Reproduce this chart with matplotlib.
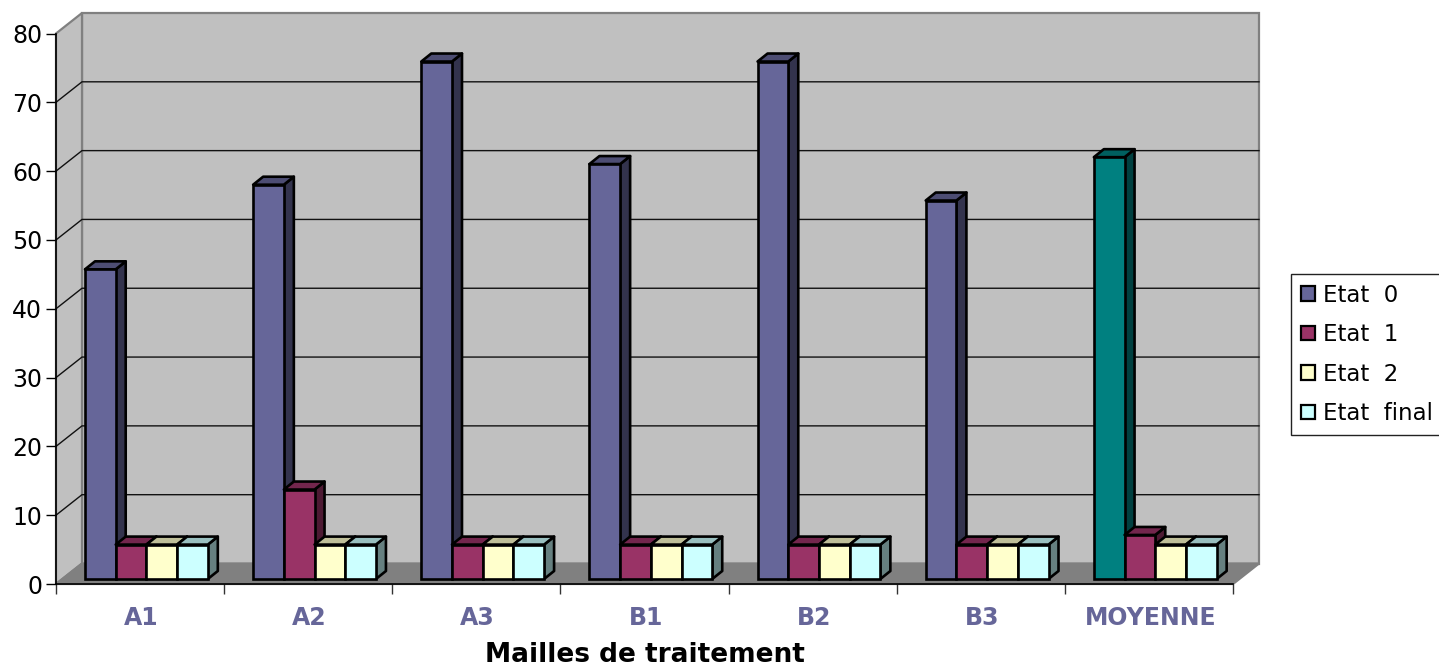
import matplotlib
matplotlib.use("Agg")
import matplotlib.pyplot as plt
from matplotlib.patches import Patch, Polygon

mailles = ["A1", "A2", "A3", "B1", "B2", "B3", "MOYENNE"]
etat0 = [45, 57.3, 75.2, 60.3, 75.2, 55, 61.3]
etat1 = [5, 13, 5, 5, 5, 5, 6.4]
etat2 = [5, 5, 5, 5, 5, 5, 5]
etat_final = [5, 5, 5, 5, 5, 5, 5]
noms = ["Etat  0", "Etat  1", "Etat  2", "Etat  final"]
yticks = [0, 10, 20, 30, 40, 50, 60, 70, 80]

# face, top, side
couleurs = [("#666699", "#4d4d73", "#33334d"),
            ("#993366", "#73264d", "#4d1a33"),
            ("#ffffcc", "#bfbf99", "#808066"),
            ("#ccffff", "#99bfbf", "#668080")]
couleurs_moyenne = ("#008080", "#006060", "#004040")

W, H = 1439, 669
x0, x1, y0, y80 = 56, 1233, 584, 33.5
px_x = 7 / (x1 - x0)
px_y = 80 / (y0 - y80)

# fake 3d offsets
mur_dx, mur_dy = 26 * px_x, 20.5 * px_y
bar_dx, bar_dy = 10 * px_x, 8 * px_y
base = 5 * px_y
marge = 29 * px_x
largeur = 30.7 * px_x
lw = 1.9

fig = plt.figure(figsize=(W / 100, H / 100), dpi=100)
ax = fig.add_axes([x0 / W, (H - y0) / H, (x1 - x0) / W, (y0 - y80) / H])
ax.set_xlim(0, 7)
ax.set_ylim(0, 80)
ax.patch.set_visible(False)
for s in ax.spines.values():
    s.set_visible(False)

# walls and floor
mur_fond = [(mur_dx, mur_dy), (7 + mur_dx, mur_dy), (7 + mur_dx, 80 + mur_dy), (mur_dx, 80 + mur_dy)]
mur_gauche = [(0, 0), (mur_dx, mur_dy), (mur_dx, 80 + mur_dy), (0, 80)]
sol = [(0, 0), (7, 0), (7 + mur_dx, mur_dy), (mur_dx, mur_dy)]
for pts, c in [(mur_fond, "#c0c0c0"), (mur_gauche, "#c0c0c0"), (sol, "#808080")]:
    ax.add_patch(Polygon(pts, closed=True, facecolor=c, edgecolor="#808080", lw=1.6, clip_on=False, zorder=1))

for v in yticks[1:-1]:
    ax.plot([0, mur_dx, 7 + mur_dx], [v, v + mur_dy, v + mur_dy], color="#111111", lw=1, clip_on=False, zorder=2)
ax.plot([0, 0], [0, 80], color="black", lw=1.2, clip_on=False, zorder=3)
ax.plot([0, 7], [0, 0], color="black", lw=1.2, clip_on=False, zorder=3)

# bars
series = [etat0, etat1, etat2, etat_final]
z = 10
for i in range(len(mailles)):
    for j, vals in enumerate(series):
        v = vals[i]
        g = i + marge + j * largeur
        d = g + largeur
        h = v + base
        c = couleurs[j]
        if j == 0 and mailles[i] == "MOYENNE":
            c = couleurs_moyenne
        ax.add_patch(Polygon([(d, base), (d + bar_dx, base + bar_dy), (d + bar_dx, h + bar_dy), (d, h)],
                             closed=True, facecolor=c[2], edgecolor="black", lw=lw, zorder=z, joinstyle="round"))
        ax.add_patch(Polygon([(g, h), (d, h), (d + bar_dx, h + bar_dy), (g + bar_dx, h + bar_dy)],
                             closed=True, facecolor=c[1], edgecolor="black", lw=lw, zorder=z + 1, joinstyle="round"))
        ax.bar(g, v, largeur, bottom=base, align="edge", color=c[0], edgecolor="black", lw=lw, zorder=z + 2)
        z += 3

# axes
ax.set_yticks(yticks)
ax.tick_params(axis="y", length=7.5, width=1, labelsize=17, pad=2.5)
ax.set_xticks(range(8))
ax.set_xticklabels([])
ax.tick_params(axis="x", which="major", length=7.5, width=1, color="#333333")
ax.set_xticks([i + 0.508 for i in range(7)], minor=True)
ax.set_xticklabels(mailles, minor=True, fontsize=17, fontweight="bold", color="#666699")
ax.tick_params(axis="x", which="minor", length=0, pad=15.5)
ax.set_xlabel("Mailles de traitement", fontsize=19, fontweight="bold", va="baseline")
ax.xaxis.set_label_coords((645 - x0) / (x1 - x0), -(662.5 - y0) / (y0 - y80), transform=ax.transAxes)

# legend
poignees = [Patch(facecolor=c[0], edgecolor="black", lw=1.6) for c in couleurs]
leg = fig.legend(poignees, noms, loc="upper left", bbox_to_anchor=(1291 / W, (H - 274) / H),
                 fontsize=16.5, fancybox=False, framealpha=1, edgecolor="#222222",
                 handlelength=0.61, handleheight=0.61, handletextpad=0.35, labelspacing=0.72,
                 borderpad=0.42, borderaxespad=0)
leg.get_frame().set_linewidth(1)

fig.savefig("out.png", dpi=100)
